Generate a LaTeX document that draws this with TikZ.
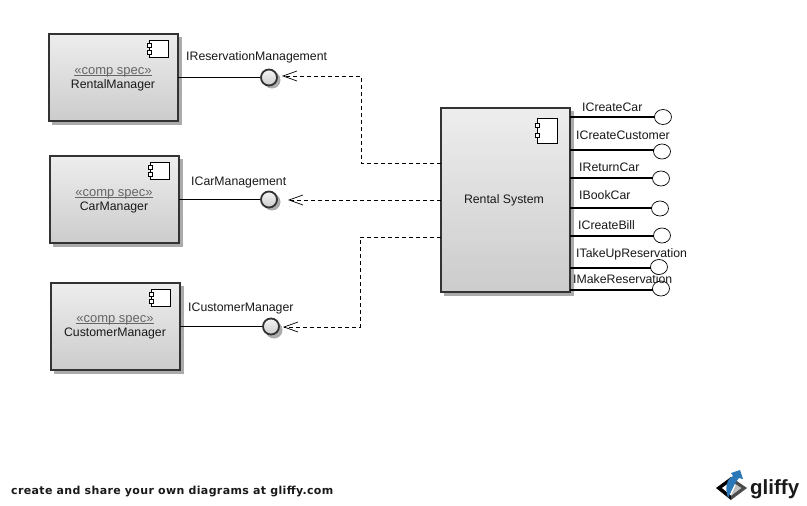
\documentclass[tikz,border=0pt]{standalone}
\usepackage{fontspec}
\setmainfont{Liberation Sans}
\newfontfamily\wmfont[LetterSpace=3.2]{DejaVu Sans}
\usetikzlibrary{arrows.meta,shapes.geometric}
\definecolor{edgecol}{HTML}{333333}
\definecolor{shadowcol}{HTML}{ABABAB}
\definecolor{logoblue}{HTML}{2A78B8}
\newsavebox{\ulsave}
\newcommand{\ulstereo}[1]{\sbox{\ulsave}{#1}\rlap{\rule[-1.6pt]{\wd\ulsave}{0.8pt}}\usebox{\ulsave}}
\tikzset{
  x=1pt,y=-1pt,
  compbox/.style={draw=edgecol,line width=2pt,top color=white!93!black,bottom color=white!80!black,minimum width=129pt,minimum height=87pt,inner sep=0pt,outer sep=0pt,rectangle},
  shadowbox/.style={fill=shadowcol,draw=none},
  iconbox/.style={draw=black,line width=0.8pt,fill=white},
  tab/.style={draw=black,line width=0.6pt,fill=white},
  ball/.style={circle,draw=edgecol,line width=1.8pt,top color=white!96!black,bottom color=white!80!black,minimum size=16pt,inner sep=0pt,outer sep=0pt},
  ballshadow/.style={circle,fill=shadowcol,minimum size=17pt,inner sep=0pt},
  socket/.style={ellipse,draw=black,line width=0.7pt,fill=white,minimum width=17pt,minimum height=15pt,inner sep=0pt,outer sep=0pt},
  lbl/.style={font=\fontsize{12.3}{12}\selectfont,anchor=base west,inner sep=0pt,text=black!90},
  stereo/.style={font=\fontsize{13}{13}\selectfont,text=black!60,inner sep=0pt,anchor=base},
  wire/.style={draw=black,line width=1pt},
  thickwire/.style={draw=black,line width=2pt},
  dep/.style={draw=black,line width=0.7pt,dash pattern=on 4pt off 3pt,-{Straight Barb[length=14pt,width=10pt,line width=0.7pt]}},
}
\newcommand{\compicon}[4]{%
  \draw[iconbox] (#1,#2) rectangle ++(#3,#4);
  \draw[tab] (#1-2,#2+0.22*#4) rectangle ++(4,4);
  \draw[tab] (#1-2,#2+0.62*#4) rectangle ++(4,4);
}
\begin{document}
\begin{tikzpicture}
\useasboundingbox (0,0) rectangle (807,506);
\fill[white] (0,0) rectangle (807,506);
% shadows
\fill[shadowbox] (52,37) rectangle (182,125);
\fill[shadowbox] (53,159) rectangle (183,247);
\fill[shadowbox] (54,286) rectangle (184,374);
\fill[shadowbox] (444,111) rectangle (574,296);
% boxes
\node[compbox] (rental) at (113.5,77.5) {};
\node[compbox] (car) at (114.5,199.5) {};
\node[compbox] (customer) at (115.5,326.5) {};
\node[compbox,minimum height=184pt] (sys) at (505.5,200) {};
\compicon{149}{40}{19}{17}
\compicon{150}{162}{19}{17}
\compicon{151}{289}{19}{17}
\compicon{537}{118}{20}{25}
% box texts
\node[stereo] (s1) at (113,74) {\ulstereo{«comp spec»}};
\node[lbl,anchor=base] (t1) at (113,88) {RentalManager};
\node[stereo] (s2) at (114,196) {\ulstereo{«comp spec»}};
\node[lbl,anchor=base] (t2) at (114,210) {CarManager};
\node[stereo] (s3) at (115,322) {\ulstereo{«comp spec»}};
\node[lbl,anchor=base] (t3) at (115,336) {CustomerManager};
\node[lbl,anchor=base] (t4) at (504,203) {Rental System};
% provided balls
\node[ballshadow] (b1s) at (272,80) {};
\node[ballshadow] (b2s) at (272,202) {};
\node[ballshadow] (b3s) at (274,330) {};
\draw[wire] (rental.east) -- (269,77.5) coordinate (b1c);
\draw[wire] (car.east) -- (269,199.5) coordinate (b2c);
\draw[wire] (customer.east) -- (271,326.5) coordinate (b3c);
\node[ball] (b1) at (b1c) {};
\node[ball] (b2) at (b2c) {};
\node[ball] (b3) at (b3c) {};
\node[lbl] (l1) at (186,60) {IReservationManagement};
\node[lbl] (l2) at (191,185) {ICarManagement};
\node[lbl] (l3) at (188,311) {ICustomerManager};
% dependencies
\coordinate (a1) at (282,76);
\coordinate (a2) at (288,200);
\coordinate (a3) at (283,327);
\coordinate (v1) at (361,163);
\coordinate (v3) at (360,237);
\draw[dep] (sys.west |- v1) -- (v1) -- (v1 |- a1) -- (a1);
\draw[dep] (sys.west |- a2) -- (a2);
\draw[dep] (sys.west |- v3) -- (v3) -- (v3 |- a3) -- (a3);
% required sockets
\node[socket] (c1) at (663,117) {};
\node[socket] (c2) at (662,151.5) {};
\node[socket] (c3) at (661,178.5) {};
\node[socket] (c4) at (660,208.5) {};
\node[socket] (c5) at (662,235.5) {};
\node[socket] (c6) at (659,267) {};
\node[socket] (c7) at (661,288.5) {};
\draw[thickwire] (sys.east |- 0,117) -- (c1.west |- 0,117);
\draw[thickwire] (sys.east |- 0,150) -- (c2.west |- 0,150);
\draw[thickwire] (sys.east |- 0,178) -- (c3.west |- 0,178);
\draw[thickwire] (sys.east |- 0,208) -- (c4.west |- 0,208);
\draw[thickwire] (sys.east |- 0,236) -- (c5.west |- 0,236);
\draw[thickwire] (sys.east |- 0,268) -- (c6.west |- 0,268);
\draw[thickwire] (sys.east |- 0,289.5) -- (c7.west |- 0,289.5);
\node[lbl] (r1) at (582,111) {ICreateCar};
\node[lbl] (r2) at (576,139) {ICreateCustomer};
\node[lbl] (r3) at (579,171) {IReturnCar};
\node[lbl] (r4) at (579,199) {IBookCar};
\node[lbl] (r5) at (578,229) {ICreateBill};
\node[lbl] (r6) at (576,257) {ITakeUpReservation};
\node[lbl] (r7) at (573,283) {IMakeReservation};
% watermark
\node[font=\wmfont\bfseries\fontsize{11}{12}\selectfont,anchor=base west,inner sep=0pt,text=black!90] (wm) at (11,494) {create and share your own diagrams at gliffy.com};
% logo
\fill[black] (716,488) -- (731,477) -- (731,500) -- cycle;
\fill[black!70] (731,477) -- (747,488) -- (731,500) -- cycle;
\fill[white] (722,488) -- (731,481.5) -- (741,488) -- (731,495.5) -- cycle;
\fill[black!25] (731,495.5) -- (741,488) -- (736,484.5) -- cycle;
\fill[logoblue] (728,498) .. controls (724,486) and (728,478) .. (733,476) -- (731,473) -- (740,470) -- (743,479) -- (739,478) .. controls (735,482) and (732,490) .. (728,498) -- cycle;
\node[font=\bfseries\fontsize{20.5}{22}\selectfont,anchor=base west,inner sep=0pt,text=black!90] (gl) at (750,494) {gliffy};
\end{tikzpicture}
\end{document}
